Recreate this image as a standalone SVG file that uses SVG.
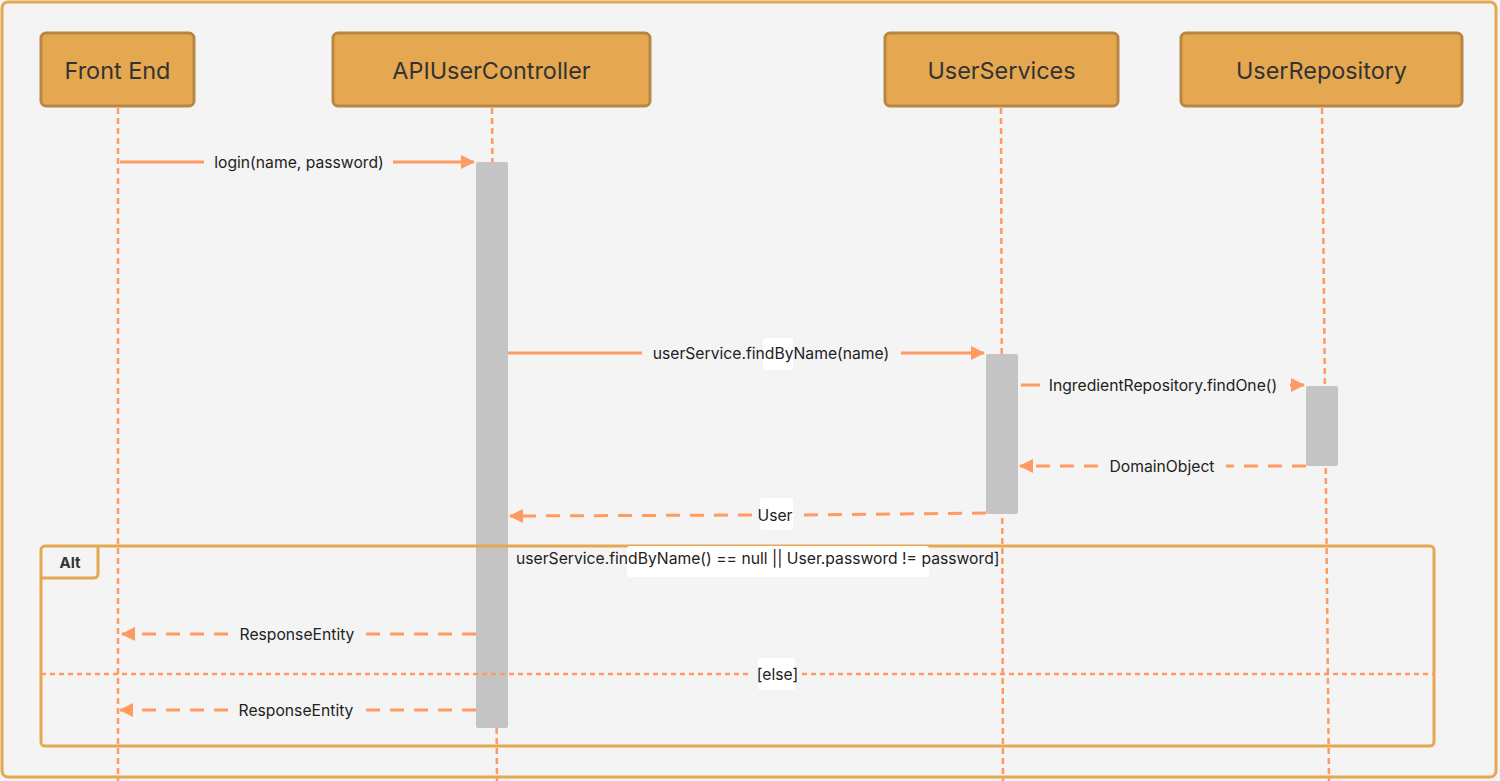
<svg xmlns="http://www.w3.org/2000/svg" width="1500" height="781" viewBox="0 0 1500 781">
<defs>
<marker id="ah" viewBox="0 0 14 14" refX="13" refY="7" markerWidth="14" markerHeight="14" markerUnits="userSpaceOnUse" orient="auto">
<path d="M0,0 L14,7 L0,14 Z" fill="#FF9A62"/>
</marker>
<style>
.node rect{fill:#E5A851;stroke:#B88642;stroke-width:3}
.node text{font-family:Inter,"Liberation Sans",sans-serif;font-size:23.4px;fill:#333;text-anchor:middle}
.life{stroke:#FF9A62;stroke-width:2.5;stroke-dasharray:6 4;fill:none}
.act{fill:#C4C4C4}
.msg{stroke:#FF9A62;stroke-width:3;fill:none}
.ret{stroke:#FF9A62;stroke-width:3;fill:none;stroke-dasharray:14 10}
.lbl{font-family:Inter,"Liberation Sans",sans-serif;font-size:15.7px;fill:#222;text-anchor:middle}
.frame{fill:none;stroke:#E5A851;stroke-width:3}
</style>
</defs>
<rect x="0" y="0" width="1500" height="781" fill="#F4F4F4"/>
<rect x="2" y="2" width="1494" height="775" rx="6" fill="#F4F4F4" stroke="#E5A851" stroke-width="3"/>

<g id="lifelines">
<line class="life" x1="118" y1="108" x2="118" y2="781"/>
<line class="life" x1="492" y1="108" x2="497" y2="781"/>
<line class="life" x1="1001" y1="108" x2="1003" y2="781"/>
<line class="life" x1="1322" y1="108" x2="1329" y2="781"/>
</g>

<g id="node-frontend" class="node"><rect x="41" y="33" width="153" height="73" rx="5"/><text x="117.5" y="78.5">Front End</text></g>
<g id="node-apiusercontroller" class="node"><rect x="333" y="33" width="317" height="73" rx="5"/><text x="491.5" y="78.5">APIUserController</text></g>
<g id="node-userservices" class="node"><rect x="885" y="33" width="233" height="73" rx="5"/><text x="1001.5" y="78.5">UserServices</text></g>
<g id="node-userrepository" class="node"><rect x="1181" y="33" width="281" height="73" rx="5"/><text x="1321.5" y="78.5">UserRepository</text></g>

<g id="activations">
<rect class="act" x="476" y="162" width="32" height="566" rx="2"/>
<rect class="act" x="986" y="354" width="32" height="160" rx="2"/>
<rect class="act" x="1306" y="386" width="32" height="80" rx="2"/>
</g>

<g id="alt-frame">
<rect class="frame" x="41" y="546" width="1393" height="200" rx="4"/>
<path class="frame" d="M41,578 H94 a4,4 0 0 0 4,-4 V546"/>
<text x="70" y="568" font-family="Inter,'Liberation Sans',sans-serif" font-size="15" font-weight="bold" fill="#333" text-anchor="middle">Alt</text>
<rect x="627" y="546" width="302" height="31" rx="3" fill="#FFFFFF"/>
<text x="516" y="564" font-family="Inter,'Liberation Sans',sans-serif" font-size="15.7" fill="#222">userService.findByName() == null || User.password != password]</text>
<line x1="41" y1="674" x2="752" y2="674" stroke="#FF9A62" stroke-width="2.5" stroke-dasharray="5 4"/>
<line x1="802" y1="674" x2="1434" y2="674" stroke="#FF9A62" stroke-width="2.5" stroke-dasharray="5 4"/>
<rect x="758" y="658" width="37" height="32" rx="3" fill="#FFFFFF"/>
<text class="lbl" x="777.5" y="679.5">[else]</text>
</g>

<g id="connectors">
<line class="msg" x1="120" y1="162" x2="204" y2="162"/>
<line class="msg" x1="393" y1="162" x2="474" y2="162" marker-end="url(#ah)"/>
<text class="lbl" x="299" y="167.5">login(name, password)</text>

<line class="msg" x1="508" y1="353" x2="642" y2="353"/>
<line class="msg" x1="901" y1="353" x2="984" y2="353" marker-end="url(#ah)"/>
<rect x="763" y="338" width="30" height="32" rx="3" fill="#FFFFFF"/>
<text class="lbl" x="771" y="358.5">userService.findByName(name)</text>

<line class="msg" x1="1021" y1="385" x2="1040" y2="385"/>
<line class="msg" x1="1290" y1="385" x2="1304" y2="385" marker-end="url(#ah)"/>
<text class="lbl" x="1163" y="390.5">IngredientRepository.findOne()</text>

<line class="ret" x1="1306" y1="466" x2="1226" y2="466"/>
<line class="ret" x1="1098" y1="466" x2="1020" y2="466" marker-end="url(#ah)"/>
<text class="lbl" x="1162" y="471.5">DomainObject</text>

<line class="ret" x1="986" y1="513" x2="800" y2="515"/>
<line class="ret" x1="752" y1="515" x2="510" y2="516" marker-end="url(#ah)"/>
<rect x="760" y="498" width="33" height="32" rx="3" fill="#FFFFFF"/>
<text class="lbl" x="775" y="521">User</text>

<line class="ret" x1="476" y1="634" x2="366" y2="634"/>
<line class="ret" x1="228" y1="634" x2="122" y2="634" marker-end="url(#ah)"/>
<text class="lbl" x="297" y="639.5">ResponseEntity</text>

<line class="ret" x1="476" y1="710" x2="366" y2="710"/>
<line class="ret" x1="228" y1="710" x2="120" y2="710" marker-end="url(#ah)"/>
<text class="lbl" x="296" y="715.5">ResponseEntity</text>
</g>
</svg>
